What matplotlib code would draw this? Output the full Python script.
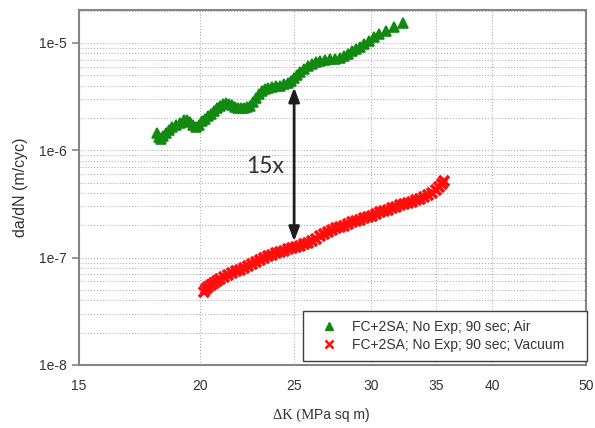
import matplotlib
matplotlib.use("Agg")
import matplotlib.pyplot as plt
from matplotlib.ticker import FixedLocator, NullFormatter, LogLocator

# Crack growth rate vs stress intensity range
air_dk = [18.05, 18.14, 18.22, 18.31, 18.44, 18.57, 18.71, 18.89, 19.07, 19.25,
          19.39, 19.52, 19.66, 19.80, 19.95, 20.09, 20.23, 20.38, 20.52, 20.67,
          20.82, 20.97, 21.12, 21.27, 21.42, 21.57, 21.73, 21.88, 22.04, 22.20,
          22.35, 22.51, 22.68, 22.84, 23.00, 23.17, 23.33, 23.50, 23.72, 23.95,
          24.18, 24.41, 24.64, 24.82, 24.99, 25.17, 25.35, 25.60, 25.84, 26.09,
          26.34, 26.59, 26.91, 27.23, 27.55, 27.88, 28.15, 28.42, 28.69, 28.96,
          29.24, 29.52, 29.87, 30.23, 30.59, 31.10, 31.70, 32.38]
air_rate = [1.44e-6, 1.32e-6, 1.27e-6, 1.35e-6, 1.44e-6, 1.53e-6, 1.64e-6, 1.71e-6, 1.78e-6, 1.90e-6,
            1.90e-6, 1.82e-6, 1.71e-6, 1.64e-6, 1.71e-6, 1.86e-6, 1.94e-6, 2.07e-6, 2.16e-6, 2.31e-6,
            2.46e-6, 2.57e-6, 2.68e-6, 2.74e-6, 2.68e-6, 2.62e-6, 2.51e-6, 2.46e-6, 2.46e-6, 2.46e-6,
            2.51e-6, 2.57e-6, 2.80e-6, 3.05e-6, 3.32e-6, 3.54e-6, 3.69e-6, 3.77e-6, 3.86e-6, 3.94e-6,
            3.94e-6, 4.11e-6, 4.20e-6, 4.38e-6, 4.68e-6, 4.99e-6, 5.32e-6, 5.67e-6, 6.04e-6, 6.31e-6,
            6.59e-6, 6.73e-6, 6.87e-6, 7.02e-6, 7.02e-6, 7.18e-6, 7.49e-6, 7.82e-6, 8.34e-6, 8.70e-6,
            9.08e-6, 9.68e-6, 1.033e-5, 1.125e-5, 1.200e-5, 1.279e-5, 1.394e-5, 1.519e-5]

vac_dk = [20.18, 20.28, 20.38, 20.52, 20.67, 20.82, 20.97, 21.17, 21.37, 21.57,
          21.78, 21.99, 22.20, 22.41, 22.62, 22.84, 23.06, 23.28, 23.50, 23.72,
          23.95, 24.18, 24.41, 24.64, 24.88, 25.11, 25.35, 25.60, 25.84, 26.09,
          26.34, 26.59, 26.84, 27.10, 27.36, 27.62, 27.88, 28.15, 28.42, 28.69,
          28.96, 29.24, 29.52, 29.80, 30.08, 30.37, 30.66, 30.95, 31.25, 31.55,
          31.85, 32.15, 32.46, 32.77, 33.08, 33.40, 33.72, 34.04, 34.36, 34.69,
          35.02, 35.27, 35.52, 35.69]
vac_rate = [4.78e-8, 5.09e-8, 5.32e-8, 5.55e-8, 5.79e-8, 6.05e-8, 6.31e-8, 6.59e-8, 6.87e-8, 7.18e-8,
            7.49e-8, 7.65e-8, 7.99e-8, 8.34e-8, 8.70e-8, 9.08e-8, 9.48e-8, 9.89e-8, 1.033e-7, 1.055e-7,
            1.101e-7, 1.125e-7, 1.150e-7, 1.200e-7, 1.226e-7, 1.252e-7, 1.279e-7, 1.336e-7, 1.364e-7, 1.424e-7,
            1.486e-7, 1.585e-7, 1.654e-7, 1.727e-7, 1.803e-7, 1.881e-7, 1.922e-7, 1.963e-7, 2.049e-7, 2.139e-7,
            2.185e-7, 2.233e-7, 2.330e-7, 2.381e-7, 2.432e-7, 2.539e-7, 2.650e-7, 2.707e-7, 2.766e-7, 2.887e-7,
            2.950e-7, 3.079e-7, 3.146e-7, 3.214e-7, 3.283e-7, 3.427e-7, 3.501e-7, 3.655e-7, 3.815e-7, 3.981e-7,
            4.246e-7, 4.528e-7, 4.828e-7, 5.148e-7]

series_labels = ["FC+2SA; No Exp; 90 sec; Air", "FC+2SA; No Exp; 90 sec; Vacuum"]

x_ticks = [15, 20, 25, 30, 35, 40, 50]
y_ticks = [1e-8, 1e-7, 1e-6, 1e-5]
y_tick_labels = ["1e-8", "1e-7", "1e-6", "1e-5"]

# Gap annotation between the two curves
gap_dk = 25
gap_top = 3.86e-6
gap_bottom = 1.42e-7
gap_text = "15x"
gap_text_pos = (23.33, 6.1e-7)

SANS = "Liberation Sans"
SERIF = "Liberation Serif"
GREEN = "#128a12"
RED = "#ff0d0d"
SPINE = "#858585"

fig = plt.figure(figsize=(5.95, 4.28), dpi=100)
ax = fig.add_axes([0.1328, 0.1472, 0.8521, 0.8306])

ax.plot(air_dk, air_rate, linestyle="none", marker="^", markersize=7,
        color=GREEN, markeredgecolor=GREEN, markeredgewidth=1.2,
        label=series_labels[0], zorder=3)
ax.plot(vac_dk, vac_rate, linestyle="none", marker="x", markersize=7.5,
        markeredgewidth=2.6, color=RED, label=series_labels[1], zorder=3)

ax.set_xscale("log")
ax.set_yscale("log")
ax.set_xlim(15, 50)
ax.set_ylim(1e-8, 2.05e-5)

ax.xaxis.set_major_locator(FixedLocator(x_ticks))
ax.xaxis.set_minor_locator(FixedLocator([]))
ax.set_xticks(x_ticks)
ax.set_xticklabels([str(v) for v in x_ticks], fontfamily=SANS, fontsize=10, color="#333333")
ax.set_yticks(y_ticks)
ax.set_yticklabels(y_tick_labels, fontfamily=SANS, fontsize=10, color="#333333")
ax.yaxis.set_minor_locator(LogLocator(base=10, subs=[2, 3, 4, 5, 6, 7, 8, 9]))
ax.yaxis.set_minor_formatter(NullFormatter())

ax.tick_params(axis="x", which="both", length=0, pad=10)
ax.tick_params(axis="y", which="major", length=5, width=1.2, color=SPINE, pad=4)
ax.tick_params(axis="y", which="minor", length=0)

ax.grid(True, axis="x", which="major", linestyle=(0, (1, 2)), color="#a3a3a3", linewidth=0.7)
ax.grid(True, axis="y", which="both", linestyle=(0, (1, 2)), color="#a3a3a3", linewidth=0.7)
ax.set_axisbelow(True)

for side, sp in ax.spines.items():
    sp.set_color(SPINE)
    sp.set_linewidth(1.5)

ax.set_ylabel("da/dN (m/cyc)", fontfamily=SANS, fontsize=11.5, color="#333333", labelpad=8)

# Axis title mixes a serif and a sans part
fig.text(314 / 595, 0.022, "\u0394K (M", ha="right", va="baseline",
         fontfamily=SERIF, fontsize=10.5, color="#333333")
fig.text(314 / 595, 0.022, "Pa sq m)", ha="left", va="baseline",
         fontfamily=SANS, fontsize=10, color="#333333")

ax.annotate("", xy=(gap_dk, gap_top), xytext=(gap_dk, gap_bottom),
            arrowprops=dict(arrowstyle="<|-|>,head_length=0.85,head_width=0.32",
                            mutation_scale=10, color="#1e1e1e", lw=2,
                            shrinkA=0, shrinkB=0), zorder=4)
ax.text(gap_text_pos[0], gap_text_pos[1], gap_text, ha="center", va="baseline",
        fontfamily="Lato", fontsize=16.5, color="#303030", zorder=4)

leg = ax.legend(loc="lower left", bbox_to_anchor=(0.442, 0.011, 0.56, 0.152),
                mode="expand", borderaxespad=0, numpoints=1,
                prop={"family": SANS, "size": 10}, handlelength=2.4,
                handletextpad=0.45, borderpad=0.65, labelspacing=0.3,
                fancybox=False, framealpha=1, edgecolor="#404040")
leg.get_frame().set_linewidth(1.0)
for t in leg.get_texts():
    t.set_color("#333333")
handles = leg.legend_handles
handles[0].set_markersize(6)
handles[0].set_markeredgewidth(1.0)
handles[1].set_markersize(5.5)
handles[1].set_markeredgewidth(1.8)

fig.savefig("out.png", dpi=100)
